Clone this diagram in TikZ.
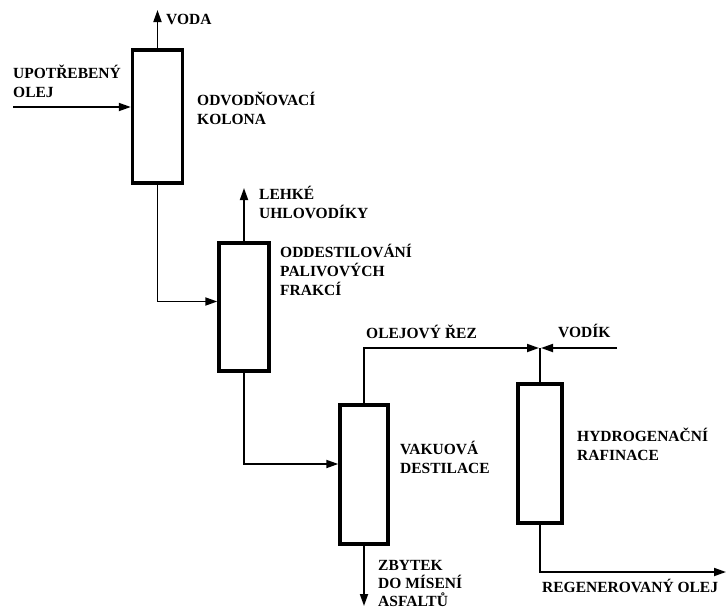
\documentclass[tikz,border=0pt]{standalone}
\usepackage{fontspec}
\setmainfont{Liberation Serif}
\usetikzlibrary{arrows.meta}
\begin{document}
\begin{tikzpicture}[x=1pt,y=-1pt,
  column/.style={draw,line width=3.4pt,inner sep=0pt,fill=white},
  flow/.style={line width=1.8pt},
  flowarrow/.style={flow,-{Triangle[length=12pt,width=8pt]}},
  % multi-line labels sit on the baseline of their last line
  lbl/.style={font=\bfseries\fontsize{15.5}{18.8}\selectfont,align=left,anchor=base west,inner sep=0pt}]
  \useasboundingbox (0,0) rectangle (726,608);

  % process columns
  \node[column,minimum width=50pt,minimum height=133pt] (b1) at (157.5,116.5) {};
  \node[column,minimum width=50pt,minimum height=128pt] (b2) at (244,307) {};
  \node[column,minimum width=48pt,minimum height=139pt] (b3) at (364,474.5) {};
  \node[column,minimum width=44pt,minimum height=139pt] (b4) at (540,453.5) {};

  % free ends of the streams
  \coordinate (feedIn) at (13,107);
  \coordinate (vodaOut) at (157.5,10);
  \coordinate (lehkeOut) at (244,188);
  \coordinate (join) at (540,348);
  \coordinate (vodikIn) at (617,348);
  \coordinate (zbytekOut) at (364,606);
  \coordinate (regenOut) at (726,572);

  % streams
  \draw[flowarrow] (feedIn) -- (feedIn -| b1.west);
  \draw[flowarrow] (b1.north) -- (vodaOut);
  \draw[flowarrow] (b1.south) |- ([yshift=5.5pt]b2.west);
  \draw[flowarrow] (b2.north) -- (lehkeOut);
  \draw[flowarrow] (b2.south) |- ([yshift=10.5pt]b3.west);
  \draw[flowarrow] (b3.north) |- ([xshift=-1pt]join);
  \draw[flowarrow] (vodikIn) -- ([xshift=1pt]join);
  \draw[flow] (join) -- (b4.north);
  \draw[flowarrow] (b3.south) -- (zbytekOut);
  \draw[flowarrow] (b4.south) |- (regenOut);

  % labels
  \node[lbl] (tVoda) at (166,24) {VODA};
  \node[lbl] (tFeed) at (13,97) {UPOTŘEBENÝ\\OLEJ};
  \node[lbl] (tB1) at (197,124) {ODVODŇOVACÍ\\KOLONA};
  \node[lbl] (tLehke) at (259,218) {LEHKÉ\\UHLOVODÍKY};
  \node[lbl] (tB2) at (280,295) {ODDESTILOVÁNÍ\\PALIVOVÝCH\\FRAKCÍ};
  \node[lbl] (tRez) at (366,338) {OLEJOVÝ ŘEZ};
  \node[lbl] (tVodik) at (558,337) {VODÍK};
  \node[lbl] (tB3) at (400,473) {VAKUOVÁ\\DESTILACE};
  \node[lbl] (tB4) at (577,460) {HYDROGENAČNÍ\\RAFINACE};
  \node[lbl,font=\bfseries\fontsize{15.5}{17.6}\selectfont] (tZbytek) at (378,606) {ZBYTEK\\DO MÍSENÍ\\ASFALTŮ};
  \node[lbl] (tRegen) at (542,592) {REGENEROVANÝ OLEJ};
\end{tikzpicture}
\end{document}
